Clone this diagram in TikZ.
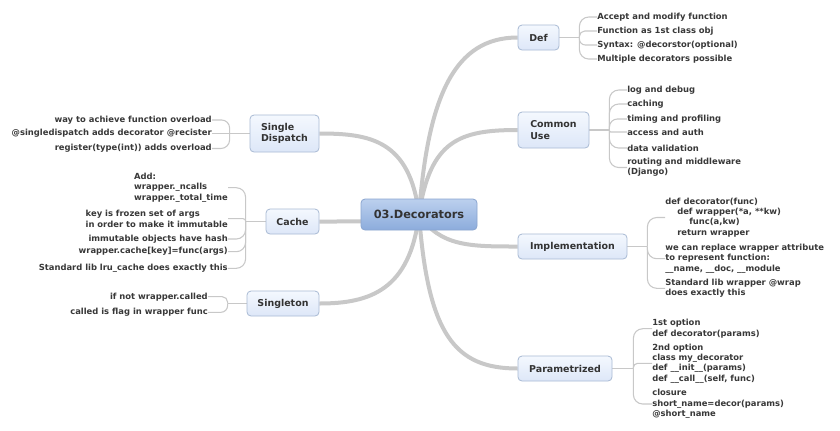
\documentclass[tikz,border=0pt]{standalone}
\usepackage{fontspec}
\setmainfont{DejaVu Sans}
\usetikzlibrary{backgrounds}
\definecolor{txt}{HTML}{383838}
\definecolor{mtxt}{HTML}{333333}
\definecolor{lnk}{HTML}{C8C8C8}
\definecolor{mainborder}{HTML}{A9BAD4}
\definecolor{maintop}{HTML}{F4F8FE}
\definecolor{mainbot}{HTML}{DDE7F8}
\definecolor{ctop}{HTML}{BCD0EE}
\definecolor{cbot}{HTML}{8CACDC}
\definecolor{cborder}{HTML}{8AA5CF}
\tikzset{
  mainbox/.style={draw=mainborder, line width=0.6pt, rounded corners=3pt,
    top color=maintop, bottom color=mainbot, inner sep=0pt, align=left,
    text=mtxt, font=\fontsize{7.1}{8.6}\selectfont\bfseries},
  centerbox/.style={draw=cborder, line width=0.6pt, rounded corners=3pt,
    top color=ctop, bottom color=cbot, inner sep=0pt, align=center,
    text=mtxt, font=\fontsize{8.5}{10}\selectfont\bfseries},
  leafR/.style={anchor=west, inner sep=0pt, align=left, text=txt,
    font=\fontsize{6.3}{7.75}\selectfont\bfseries},
  leafL/.style={anchor=east, inner sep=0pt, align=left, text=txt,
    font=\fontsize{6.3}{7.75}\selectfont\bfseries},
  branch/.style={draw=lnk, line width=3pt},
  twig/.style={draw=lnk, line width=0.8pt},
}
\begin{document}
\begin{tikzpicture}[x=0.75pt,y=-0.75pt]
\useasboundingbox (0,0) rectangle (840,430);

% central and main nodes
\node[centerbox, minimum width=87pt, minimum height=23.25pt] (c) at (419,214.5) {03.Decorators};
\node[mainbox, minimum width=30.75pt, minimum height=18.75pt] (def) at (538.5,37.5) {Def};
\node[mainbox, minimum width=53.25pt, minimum height=27pt] (cu) at (553.5,130) {Common\\Use};
\node[mainbox, minimum width=81.75pt, minimum height=18.75pt] (im) at (572.5,246.5) {Implementation};
\node[mainbox, minimum width=70.5pt, minimum height=18.75pt] (pa) at (565,368.5) {Parametrized};
\node[mainbox, minimum width=51.75pt, minimum height=27.75pt] (sd) at (284.5,133.5) {Single\\Dispatch};
\node[mainbox, minimum width=39.75pt, minimum height=18.75pt] (ca) at (292.5,221.5) {Cache};
\node[mainbox, minimum width=54pt, minimum height=18.75pt] (sg) at (283,303.5) {Singleton};

% Def leaves
\node[leafR] (d1) at (597,17) {Accept and modify function};
\node[leafR] (d2) at (597,31) {Function as 1st class obj};
\node[leafR] (d3) at (597,45) {Syntax: @decorstor(optional)};
\node[leafR] (d4) at (597,59) {Multiple decorators possible};

% Common Use leaves
\node[leafR] (u1) at (627,90) {log and debug};
\node[leafR] (u2) at (627,104) {caching};
\node[leafR] (u3) at (627,119) {timing and profiling};
\node[leafR] (u4) at (627,132) {access and auth};
\node[leafR] (u5) at (627,148) {data validation};
\node[leafR] (u6) at (627,167.5) {routing and middleware\\(Django)};

% Implementation leaves
\node[leafR] (i1) at (665,217.5) {def decorator(func)\\\hspace*{9pt}def wrapper(*a, **kw)\\\hspace*{18pt}func(a,kw)\\\hspace*{9pt}return wrapper};
\node[leafR] (i2) at (665,258.7) {we can replace wrapper attribute\\to represent function:\\\_\_name, \_\_doc, \_\_module};
\node[leafR] (i3) at (665,288.3) {Standard lib wrapper @wrap\\does exactly this};

% Parametrized leaves
\node[leafR] (p1) at (652,328.7) {1st option\\def decorator(params)};
\node[leafR] (p2) at (652,363.4) {2nd option\\class my\_decorator\\def \_\_init\_\_(params)\\def \_\_call\_\_(self, func)};
\node[leafR] (p3) at (652,404) {closure\\short\_name=decor(params)\\@short\_name};

% Single Dispatch leaves
\node[leafL] (s1) at (212,120) {way to achieve function overload};
\node[leafL] (s2) at (212,133.5) {@singledispatch adds decorator @recister};
\node[leafL] (s3) at (212,148.5) {register(type(int)) adds overload};

% Cache leaves
\node[leafL] (k1) at (228,187.7) {Add:\\wrapper.\_ncalls\\wrapper.\_total\_time};
\node[leafL] (k2) at (228,218.7) {key is frozen set of args\\in order to make it immutable};
\node[leafL] (k3) at (228,239) {immutable objects have hash};
\node[leafL] (k4) at (228,251.7) {wrapper.cache[key]=func(args)};
\node[leafL] (k5) at (228,268.3) {Standard lib lru\_cache does exactly this};

% Singleton leaves
\node[leafL] (g1) at (208,296.7) {if not wrapper.called};
\node[leafL] (g2) at (208,312.3) {called is flag in wrapper func};

\begin{scope}[on background layer]
  \fill[white] (0,0) rectangle (840,430);
  % main branches
  \draw[branch] (c.center) .. controls (428,95) and (455,37.5) .. (def.west);
  \draw[branch] (c.center) .. controls (430,140) and (460,130) .. (cu.west);
  \draw[branch] (c.center) .. controls (440,246.5) and (470,246.5) .. (im.west);
  \draw[branch] (c.center) .. controls (428,335) and (455,368.5) .. (pa.west);
  \draw[branch] (c.center) .. controls (410,140) and (370,133.5) .. (sd.east);
  \draw[branch] (c.center) .. controls (400,221.5) and (380,221.5) .. (ca.east);
  \draw[branch] (c.center) .. controls (410,290) and (370,303.5) .. (sg.east);

  % Def bracket
  \path (def.east) ++(20,0) coordinate (bd);
  \draw[twig] (def.east) -- (bd);
  \draw[twig, rounded corners=7pt] (bd) |- (d1.west);
  \draw[twig, rounded corners=4pt] (bd) |- (d2.west);
  \draw[twig, rounded corners=4.5pt] (bd) |- (d3.west);
  \draw[twig, rounded corners=7pt] (bd) |- (d4.west);

  % Common Use bracket
  \path (cu.east) ++(20,0) coordinate (bu);
  \draw[twig] (cu.east) -- (bu);
  \draw[twig, rounded corners=7pt] (bu) |- (u1.west);
  \draw[twig, rounded corners=7pt] (bu) |- (u2.west);
  \draw[twig, rounded corners=6pt] (bu) |- (u3.west);
  \draw[twig, rounded corners=1pt] (bu) |- (u4.west);
  \draw[twig, rounded corners=7pt] (bu) |- (u5.west);
  \draw[twig, rounded corners=7pt] (bu) |- (u6.west);

  % Implementation bracket
  \path (im.east) ++(20,0) coordinate (bi);
  \draw[twig] (im.east) -- (bi);
  \draw[twig, rounded corners=7pt] (bi) |- (i1.west);
  \draw[twig, rounded corners=7pt] (bi) |- (i2.west);
  \draw[twig, rounded corners=7pt] (bi) |- (i3.west);

  % Parametrized bracket
  \path (pa.east) ++(21,0) coordinate (bp);
  \draw[twig] (pa.east) -- (bp);
  \draw[twig, rounded corners=7pt] (bp) |- (p1.west);
  \draw[twig, rounded corners=3pt] (bp) |- (p2.west);
  \draw[twig, rounded corners=7pt] (bp) |- (p3.west);

  % Single Dispatch bracket
  \path (sd.west) ++(-20,0) coordinate (bs);
  \draw[twig] (sd.west) -- (bs);
  \draw[twig, rounded corners=6pt] (bs) |- (s1.east);
  \draw[twig] (bs) -- (s2.east);
  \draw[twig, rounded corners=6.5pt] (bs) |- (s3.east);

  % Cache bracket
  \path (ca.west) ++(-20,0) coordinate (bk);
  \draw[twig] (ca.west) -- (bk);
  \draw[twig, rounded corners=7pt] (bk) |- (k1.east);
  \draw[twig, rounded corners=1.8pt] (bk) |- (k2.east);
  \draw[twig, rounded corners=7pt] (bk) |- (k3.east);
  \draw[twig, rounded corners=7pt] (bk) |- (k4.east);
  \draw[twig, rounded corners=7pt] (bk) |- (k5.east);

  % Singleton bracket
  \path (sg.west) ++(-19,0) coordinate (bg);
  \draw[twig] (sg.west) -- (bg);
  \draw[twig, rounded corners=4pt] (bg) |- (g1.east);
  \draw[twig, rounded corners=5pt] (bg) |- (g2.east);
\end{scope}
\end{tikzpicture}
\end{document}
